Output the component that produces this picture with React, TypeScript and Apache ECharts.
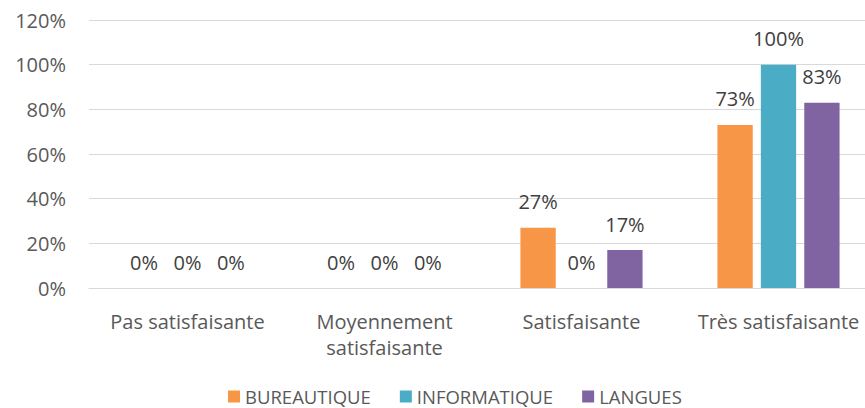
import React, { useEffect, useRef } from "react";
import * as echarts from "echarts";

const categories = ["Pas satisfaisante", "Moyennement\nsatisfaisante", "Satisfaisante", "Très satisfaisante"];
const bureautique = [0, 0, 27, 73];
const informatique = [0, 0, 0, 100];
const langues = [0, 0, 17, 83];
const seriesNames = ["BUREAUTIQUE", "INFORMATIQUE", "LANGUES"];
const colors = ["#F79646", "#4BACC6", "#8064A2"];

export default function App() {
  const ref = useRef<HTMLDivElement>(null);
  useEffect(() => {
    const chart = echarts.init(ref.current!, null, { renderer: "svg" });
    const font = "'Open Sans', 'Noto Sans', sans-serif";
    const label = {
      show: true,
      position: "top",
      distance: 16,
      formatter: "{c}%",
      color: "#404040",
      fontSize: 20,
      fontFamily: font,
    };
    const data = [bureautique, informatique, langues];
    chart.setOption({
      animation: false,
      color: colors,
      grid: { left: 89, width: 788, top: 20, height: 268, containLabel: false, outerBoundsMode: "none" },
      legend: {
        top: 387,
        left: 228,
        padding: 0,
        itemWidth: 12,
        itemHeight: 12,
        itemGap: 29,
        icon: "rect",
        textStyle: { color: "#595959", fontSize: 18.5, lineHeight: 17, fontFamily: font },
        data: seriesNames,
      },
      xAxis: {
        type: "category",
        data: categories,
        axisLine: { show: true, lineStyle: { color: "#d9d9d9" } },
        axisTick: { show: false },
        axisLabel: { interval: 0, color: "#595959", fontSize: 20, fontFamily: font, margin: 20, lineHeight: 26 },
      },
      yAxis: {
        type: "value",
        min: 0,
        max: 120,
        interval: 20,
        axisLine: { show: false },
        axisTick: { show: false },
        splitLine: { lineStyle: { color: "#d9d9d9" } },
        axisLabel: { formatter: "{value}%", color: "#595959", fontSize: 20, fontFamily: font, margin: 23 },
      },
      series: seriesNames.map((name, i) => ({
        name,
        type: "bar",
        data: data[i],
        barCategoryGap: "38%",
        barGap: "23%",
        label,
      })),
    });
    return () => chart.dispose();
  }, []);
  return <div ref={ref} style={{ position: "absolute", left: 0, top: 0, width: 865, height: 408 }} />;
}
